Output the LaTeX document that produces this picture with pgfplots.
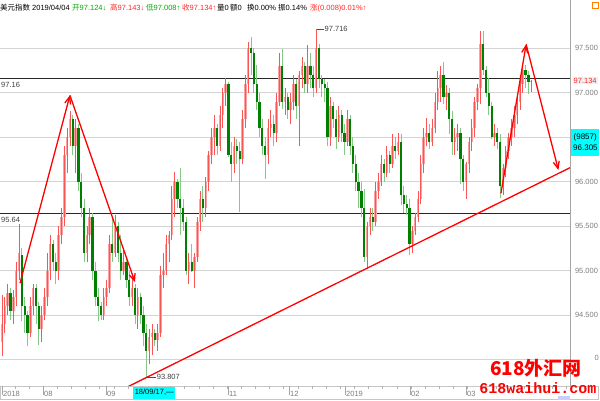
\documentclass[border=0pt]{standalone}
\usepackage{pgfplots}
\pgfplotsset{compat=1.18}
\usepackage{pgfplotstable}
\usepackage{fontspec}
\setmainfont{Liberation Sans}
\newfontfamily\cjk{Noto Sans CJK SC}
\newfontfamily\mono{Liberation Mono}
\usetikzlibrary{arrows.meta}

\definecolor{upbody}{RGB}{255,160,160}
\definecolor{upwick}{RGB}{250,85,85}
\definecolor{dnbody}{RGB}{0,128,0}
\definecolor{dnwick}{RGB}{135,200,135}
\definecolor{txtgreen}{RGB}{0,170,0}
\definecolor{txtred}{RGB}{255,40,40}
\definecolor{gridgray}{RGB}{212,212,212}
\definecolor{labgray}{RGB}{125,125,125}
\definecolor{hicyan}{RGB}{0,255,255}

\newcommand\sm{\fontsize{7.5}{9}\selectfont}

% daily candles: index, open, high, low, close
\pgfplotstableread{
i o h l c
0 94.20 94.73 94.04 94.40
1 94.40 94.70 94.30 94.60
2 94.60 94.85 94.50 94.75
3 94.75 94.80 94.45 94.55
4 94.55 94.78 94.40 94.70
5 94.70 95.10 94.60 95.00
6 95.00 95.52 94.90 95.20
7 95.18 95.25 94.43 94.60
8 94.60 94.70 94.30 94.50
9 94.50 94.55 94.15 94.30
10 94.30 94.70 94.25 94.60
11 94.60 94.85 94.50 94.80
12 94.80 94.85 94.40 94.60
13 94.60 94.65 94.17 94.35
14 94.35 94.60 94.20 94.50
15 94.50 94.80 94.45 94.70
16 94.70 95.20 94.60 95.00
17 95.00 95.40 94.90 95.30
18 95.30 95.35 95.00 95.10
19 95.10 95.20 94.85 95.00
20 95.00 95.50 94.90 95.40
21 95.40 95.70 95.30 95.60
22 95.60 96.40 95.50 96.30
23 96.30 96.60 96.10 96.50
24 96.50 96.79 96.40 96.70
25 96.70 96.75 96.30 96.40
26 96.40 96.70 96.10 96.60
27 96.60 96.65 95.90 96.00
28 96.00 96.10 95.60 95.70
29 95.70 95.80 95.10 95.20
30 95.20 95.50 95.10 95.40
31 95.40 95.70 95.30 95.60
32 95.60 95.65 94.90 95.00
33 95.00 95.10 94.60 94.70
34 94.70 94.80 94.43 94.60
35 94.60 94.65 94.45 94.50
36 94.50 94.80 94.45 94.70
37 94.70 94.90 94.60 94.80
38 94.80 95.40 94.75 95.30
39 95.30 95.60 95.10 95.20
40 95.20 95.63 95.15 95.50
41 95.50 95.55 95.10 95.20
42 95.20 95.40 94.90 95.00
43 95.00 95.25 94.95 95.10
44 95.10 95.15 94.80 94.90
45 94.90 95.00 94.60 94.70
46 94.70 94.95 94.60 94.80
47 94.80 94.85 94.40 94.50
48 94.50 94.80 94.35 94.70
49 94.70 94.75 94.40 94.50
50 94.50 94.60 94.15 94.30
51 94.30 94.40 93.807 94.10
52 94.10 94.35 93.95 94.25
53 94.25 94.40 94.05 94.30
54 94.30 94.35 94.15 94.22
55 94.22 94.40 94.10 94.30
56 94.30 95.05 94.25 94.95
57 94.95 95.20 94.80 95.00
58 95.00 95.40 94.95 95.30
59 95.30 95.45 95.10 95.40
60 95.40 95.95 95.35 95.80
61 95.80 96.11 95.60 96.00
62 96.00 96.03 95.70 95.80
63 95.80 96.15 95.40 95.70
64 95.70 95.80 95.45 95.55
65 95.55 95.60 94.95 95.00
66 95.00 95.20 94.85 95.10
67 95.10 95.30 94.98 95.00
68 95.00 95.20 94.80 95.15
69 95.15 95.60 95.10 95.55
70 95.55 95.90 95.45 95.80
71 95.80 95.95 95.55 95.70
72 95.70 96.05 95.60 96.00
73 96.00 96.35 95.90 96.30
74 96.30 96.60 96.20 96.50
75 96.50 96.75 96.30 96.60
76 96.60 96.65 96.30 96.40
77 96.40 96.85 96.35 96.75
78 96.75 97.05 96.60 97.00
79 97.00 97.16 96.85 97.10
80 97.10 97.12 96.28 96.30
81 96.30 96.45 96.00 96.20
82 96.20 96.50 96.10 96.40
83 96.40 96.48 96.20 96.35
84 96.35 96.45 95.66 96.25
85 96.25 96.80 96.20 96.70
86 96.70 97.20 96.60 97.10
87 97.10 97.57 97.00 97.50
88 97.50 97.62 97.20 97.45
89 97.45 97.50 97.00 97.10
90 97.10 97.31 96.80 96.90
91 96.90 97.00 96.50 96.60
92 96.60 96.70 96.30 96.40
93 96.40 96.50 96.03 96.30
94 96.30 96.70 96.20 96.60
95 96.60 96.80 96.50 96.65
96 96.65 96.75 96.40 96.55
97 96.55 97.00 96.45 96.90
98 96.90 97.45 96.85 97.30
99 97.30 97.49 96.82 96.90
100 96.90 97.05 96.75 96.95
101 96.95 97.00 96.70 96.80
102 96.80 97.00 96.65 96.90
103 96.90 97.20 96.80 97.10
104 97.10 97.15 96.70 96.85
105 96.85 97.24 96.40 97.20
106 97.20 97.40 97.05 97.30
107 97.30 97.35 97.00 97.10
108 97.10 97.54 97.00 97.30
109 97.30 97.45 97.05 97.20
110 97.20 97.30 96.95 97.05
111 97.05 97.716 97.00 97.50
112 97.50 97.55 97.05 97.15
113 97.15 97.20 96.95 97.10
114 97.10 97.15 96.90 97.05
115 97.05 97.12 96.40 96.50
116 96.50 96.95 96.40 96.85
117 96.85 96.90 96.60 96.70
118 96.70 96.80 96.37 96.50
119 96.50 96.85 96.45 96.75
120 96.75 96.80 96.45 96.55
121 96.55 96.65 96.30 96.45
122 96.45 96.80 96.40 96.70
123 96.70 96.75 96.30 96.40
124 96.40 96.50 96.10 96.20
125 96.20 96.30 95.90 96.00
126 96.00 96.10 95.70 95.90
127 95.90 96.00 95.60 95.70
128 95.70 95.92 95.10 95.15
129 95.15 95.55 95.02 95.50
130 95.50 95.70 95.40 95.60
131 95.60 95.70 95.45 95.55
132 95.55 96.00 95.50 95.90
133 95.90 96.10 95.80 96.00
134 96.00 96.30 95.95 96.20
135 96.20 96.25 96.00 96.10
136 96.10 96.40 96.05 96.30
137 96.30 96.35 96.10 96.20
138 96.20 96.53 96.15 96.40
139 96.40 96.50 96.25 96.35
140 96.35 96.55 96.30 96.45
141 96.45 96.53 95.74 95.85
142 95.85 95.95 95.65 95.75
143 95.75 95.85 95.63 95.70
144 95.70 95.80 95.18 95.30
145 95.30 95.50 95.20 95.45
146 95.45 95.65 95.40 95.60
147 95.60 95.90 95.55 95.80
148 95.80 96.30 95.75 96.20
149 96.20 96.60 96.10 96.50
150 96.50 96.71 96.40 96.55
151 96.55 96.65 96.37 96.45
152 96.45 96.70 96.40 96.60
153 96.60 97.00 96.55 96.90
154 96.90 97.24 96.80 97.05
155 97.05 97.30 96.90 97.20
156 97.20 97.35 96.87 96.95
157 96.95 97.09 96.80 97.00
158 97.00 97.05 96.53 96.70
159 96.70 96.79 96.30 96.45
160 96.45 96.60 96.30 96.50
161 96.50 96.65 96.35 96.55
162 96.55 96.60 95.97 96.25
163 96.25 96.30 95.90 96.00
164 96.00 96.22 95.81 96.20
165 96.20 96.50 96.10 96.45
166 96.45 96.70 96.35 96.60
167 96.60 96.95 96.50 96.90
168 96.90 97.10 96.80 97.05
169 97.05 97.69 96.87 97.55
170 97.55 97.69 97.20 97.25
171 97.25 97.30 96.95 97.00
172 97.00 97.16 96.75 96.85
173 96.85 96.90 96.48 96.50
174 96.50 96.65 96.40 96.55
175 96.55 96.60 96.37 96.45
176 96.45 96.53 95.82 95.95
177 95.95 96.20 95.85 96.15
178 96.15 96.40 96.05 96.35
179 96.35 96.55 96.25 96.50
180 96.50 96.70 96.40 96.60
181 96.60 96.85 96.50 96.75
182 96.75 97.00 96.65 96.90
183 96.90 97.20 96.80 97.10
184 97.10 97.31 97.00 97.25
185 97.25 97.31 97.05 97.20
186 97.20 97.24 96.98 97.12
187 97.124 97.143 97.008 97.134
}\candles

\pgfplotsset{
  up only/.style={restrict expr to domain={\thisrow{c}-\thisrow{o}}{0:10}},
  down only/.style={restrict expr to domain={\thisrow{c}-\thisrow{o}}{-10:-0.0001}},
  candle/.style 2 args={draw=none, mark=none,
    error bars/y dir=both, error bars/y explicit, error bars/error mark=none,
    error bars/error bar style={draw=#1, line width=#2, solid}},
  trend/.style={red, line width=1.3pt, mark=none},
}

\begin{document}
\begin{tikzpicture}[x=1pt,y=1pt]
\path[use as bounding box] (0,0) rectangle (600,400);

\begin{axis}[
  at={(0,15)}, anchor=south west, scale only axis,
  width=570pt, height=370pt,
  xmin=-0.71, xmax=200.7, ymin=93.697, ymax=97.854,
  clip=false,
  axis x line=none, axis y line=right,
  y axis line style={draw=none},
  major tick length=0pt,
  ytick={94,94.5,95,95.5,96,96.5,97,97.5},
  yticklabels={,94.500,95.000,95.500,96.000,,97.000,97.500},
  yticklabel style={font=\sm, text=labgray, xshift=1.5pt},
  ymajorgrids, grid style={gridgray, line width=0.8pt},
  /pgf/number format/assume math mode=true,
]
% support / resistance levels
\addplot[black!85, line width=1.2pt] coordinates {(-0.71,97.16) (200.7,97.16)};
\addplot[black!85, line width=1.2pt] coordinates {(-0.71,95.64) (200.7,95.64)};

% rising candles: pale body, red wick through it
\addplot[up only, candle={upbody}{2.5pt}]
  table[x=i, y=c, y error plus expr=0, y error minus expr=\thisrow{c}-\thisrow{o}] {\candles};
\addplot[up only, candle={upwick}{0.8pt}]
  table[x=i, y=c, y error plus expr=\thisrow{h}-\thisrow{c}, y error minus expr=\thisrow{c}-\thisrow{l}] {\candles};
% falling candles: light wick, solid green body
\addplot[down only, candle={dnwick}{0.9pt}]
  table[x=i, y=c, y error plus expr=\thisrow{h}-\thisrow{c}, y error minus expr=\thisrow{c}-\thisrow{l}] {\candles};
\addplot[down only, candle={dnbody}{2.2pt}]
  table[x=i, y=c, y error plus expr=\thisrow{o}-\thisrow{c}, y error minus expr=0] {\candles};

% hand drawn trend lines
\addplot[trend, -{Straight Barb[length=7pt,width=6pt]}] coordinates {(6.36,94.86) (24.0,96.97)};
\addplot[trend, -{Straight Barb[length=7pt,width=6pt]}] coordinates {(24.0,96.97) (47.0,94.87)};
\addplot[trend] coordinates {(44.5,93.697) (200.7,96.157)};
\addplot[trend, -{Straight Barb[length=7pt,width=6pt]}] coordinates {(176.3,95.869) (185.2,97.543)};
\addplot[trend, -{Straight Barb[length=7pt,width=6pt]}] coordinates {(185.2,97.543) (196.6,96.131)};

% level labels
\node[anchor=north west, font=\sm, text=black!75, inner sep=1pt] at (axis cs:-0.71,97.13) {97.16};
\node[anchor=north west, font=\sm, text=black!75, inner sep=1pt] at (axis cs:-0.71,95.61) {95.64};
\draw[black!70] (axis cs:111.3,97.716) -- (axis cs:113.6,97.716)
  node[anchor=west, font=\sm, text=black!75, inner sep=1pt] {97.716};
\draw[black!70] (axis cs:51.3,93.807) -- (axis cs:54.3,93.807)
  node[anchor=west, font=\sm, text=black!75, inner sep=1pt] {93.807};

% right side price boxes
\node[anchor=west, fill=black!6, text=txtred, font=\sm, inner sep=1pt] at (axis cs:200.7,97.134) [xshift=2.5pt] {97.134};
\node[anchor=west, fill=hicyan, font=\fontsize{8}{11}\selectfont, align=center, inner sep=2pt, text width=24pt, minimum height=27pt] at (axis cs:200.7,96.44) [xshift=1pt] {(9857)\\96.305};
\end{axis}

% right axis line
\draw[gray!70] (570,14) -- (570,400);
\node[anchor=east, font=\sm, text=labgray, inner sep=0pt] at (599,42) {0};

% header
\begin{scope}[every node/.style={anchor=base west, inner sep=0pt, font=\sm}]
\node at (0,389) {\cjk 美元指数};
\node at (32,389) {2019/04/04};
\node[text=txtgreen] at (72,389) {{\cjk 开}97.124↓};
\node[text=txtred] at (110,389) {{\cjk 高}97.143↓};
\node[text=txtgreen] at (146,389) {{\cjk 低}97.008↑};
\node[text=txtred] at (182,389) {{\cjk 收}97.134↑};
\node at (217,389) {{\cjk 量}0};
\node at (230,389) {{\cjk 额}0};
\node at (247,389) {{\cjk 换}0.00\%};
\node at (278,389) {{\cjk 振}0.14\%};
\node[text=txtred] at (310,389) {{\cjk 涨}(0.008)0.01\%↑};
\end{scope}
\draw[orange] (592,392) rectangle (598,398);

% date strip
\draw[gray!45, fill=white] (0.5,1) rectangle (598,14);
\foreach \k in {1,...,40} {\draw[gray!60] ({0.6+14.15*\k},14) -- ({0.6+14.15*\k},11);}
\foreach \xx/\lab in {2/2018,43/08,106/09,228/11,289/12,345/2019,410/02,466/03} {
  \draw[gray!70] (\xx,14) -- (\xx,5);
  \node[anchor=base west, font=\sm, text=labgray, inner sep=0pt] at (\xx+1,4) {\lab};
}
\node[anchor=west, fill=hicyan, font=\sm, inner sep=1pt, minimum height=12pt, minimum width=42pt] at (133,7.5) {18/09/17,—};
\fill[blue!20] (558,0) rectangle (570,4);

% watermark
\node[text=red, font={\cjk\bfseries\fontsize{19}{20}\selectfont}, inner sep=0pt] at (536,32) {618外汇网};
\node[text=red, font={\mono\bfseries\fontsize{15}{16}\selectfont}, inner sep=0pt] at (538,12) {618waihui.com};
\end{tikzpicture}
\end{document}
